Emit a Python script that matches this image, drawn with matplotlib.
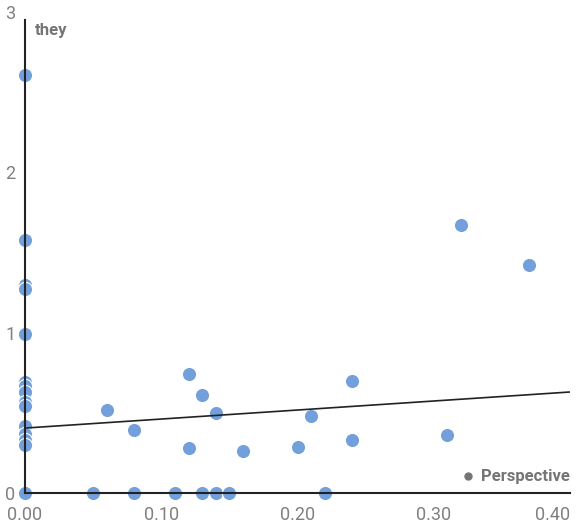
import matplotlib
matplotlib.use("Agg")
import matplotlib.pyplot as plt

plt.rcParams['font.family'] = ['Roboto', 'DejaVu Sans']

x_vals = [0, 0, 0, 0, 0, 0, 0, 0, 0, 0, 0, 0, 0, 0, 0, 0,
          0.05, 0.06, 0.08, 0.08, 0.11, 0.12, 0.12, 0.13, 0.13, 0.14, 0.14, 0.15,
          0.16, 0.20, 0.21, 0.22, 0.24, 0.24, 0.31, 0.32, 0.37]
y_vals = [2.61, 1.58, 1.30, 1.27, 0.99, 0.69, 0.67, 0.63, 0.57, 0.54, 0.42, 0.37, 0.33, 0.30, 0.0, 0.0,
          0.0, 0.52, 0.39, 0.0, 0.0, 0.74, 0.28, 0.61, 0.0, 0.50, 0.0, 0.0,
          0.26, 0.29, 0.48, 0.0, 0.70, 0.33, 0.36, 1.67, 1.42]
trend_x = [0.0, 0.40]
trend_y = [0.405, 0.63]
x_ticks = [0.0, 0.10, 0.20, 0.30, 0.40]
x_tick_labels = ['0.00', '0.10', '0.20', '0.30', '0.40']
y_ticks = [0, 1, 2, 3]
y_tick_labels = ['0', '1', '2', '3']
series_name = 'Perspective'
y_title = 'they'

fig = plt.figure(figsize=(5.88, 5.25), dpi=100)
ax = fig.add_axes([25/588, 32/525, 545/588, 481/525])
ax.set_xlim(0, 0.40)
ax.set_ylim(0, 3)

ax.scatter(x_vals, y_vals, s=105, color='#73a0db', edgecolors='white', linewidths=0.8,
           zorder=2, clip_on=False)
ax.plot(trend_x, trend_y, color='#222222', linewidth=1.2, zorder=3)

for s in ['top', 'right']:
    ax.spines[s].set_visible(False)
for s in ['left', 'bottom']:
    ax.spines[s].set_color('#222222')
    ax.spines[s].set_linewidth(1.5)
    ax.spines[s].set_zorder(4)
ax.spines['left'].set_bounds(0, 2.95)

ax.set_xticks(x_ticks)
ax.set_xticklabels(x_tick_labels)
ax.set_yticks(y_ticks)
ax.set_yticklabels(y_tick_labels)
ax.tick_params(length=0, colors='#808080', labelsize=13)
ax.tick_params(axis='x', pad=9)
ax.tick_params(axis='y', pad=7)
xl = ax.get_xticklabels()
xl[0].set_horizontalalignment('center')
xl[-1].set_horizontalalignment('right')

ax.text(0.018, 0.962, y_title, transform=ax.transAxes, fontsize=12, fontweight='bold',
        color='#757575', va='center', ha='left')
ax.plot([0.812], [0.035], 'o', transform=ax.transAxes, color='#757575', markersize=5,
        clip_on=False, zorder=5)
ax.text(0.9995, 0.035, series_name, transform=ax.transAxes, fontsize=12,
        fontweight='bold', color='#757575', va='center', ha='right')

fig.savefig('out.png', dpi=100)
